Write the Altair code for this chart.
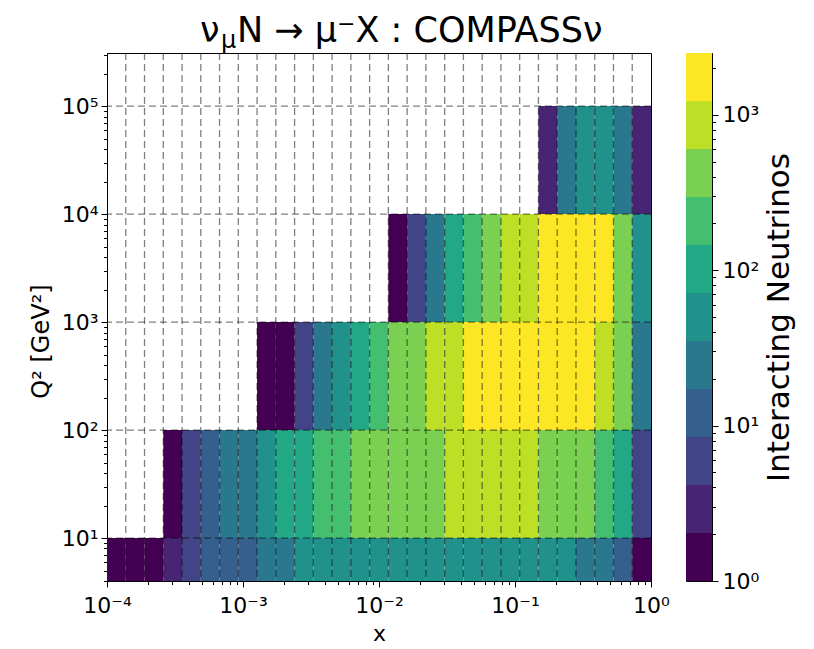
import altair as alt
import numpy as np
import pandas as pd

FONT = "DejaVu Sans"

# histogram binning: 29 log-spaced x bins, decade-wide Q2 bins
x_edges = list(np.logspace(-4, 0, 30))
q2_edges = [1, 10, 100, 1000, 10000, 100000]

# interacting-neutrino counts per x bin (left to right), one list per Q2 row
counts_q2_1_10 = [1, 1, 2, 3, 6, 10, 13, 16, 24, 31, 40, 45, 50, 54, 57, 60, 62, 63, 64, 63,
                  61, 57, 52, 46, 39, 30, 21, 12, 2]
counts_q2_10_100 = [0, 0, 0, 1, 6, 14, 22, 33, 58, 85, 120, 170, 250, 340, 420, 480, 540, 590,
                    650, 720, 760, 740, 680, 580, 480, 370, 230, 110, 7]
counts_q2_100_1000 = [0, 0, 0, 0, 0, 0, 0, 0, 1, 2, 6, 25, 52, 105, 220, 380, 540, 800, 1150,
                      1400, 1600, 1750, 1800, 1750, 1600, 1300, 1000, 450, 30]
counts_q2_1e3_1e4 = [0] * 15 + [1, 7, 28, 95, 200, 420, 700, 1000, 1450, 1900, 2100, 1700, 520, 55]
counts_q2_1e4_1e5 = [0] * 23 + [3, 26, 45, 48, 30, 3]

rows = [counts_q2_1_10, counts_q2_10_100, counts_q2_100_1000, counts_q2_1e3_1e4, counts_q2_1e4_1e5]

# discrete colour levels (log spaced, 11 bands) and viridis colours
color_max = 2500
levels = list(np.logspace(0, np.log10(color_max), 12))
viridis11 = ["#440154", "#482475", "#414487", "#355f8d", "#2a788e", "#21918c",
             "#22a884", "#44bf70", "#7ad151", "#bddf26", "#fde725"]

recs = []
for j, row in enumerate(rows):
    for i, v in enumerate(row):
        if v > 0:
            recs.append({"x_lo": x_edges[i], "x_hi": x_edges[i + 1],
                         "q_lo": q2_edges[j], "q_hi": q2_edges[j + 1], "n": v})
df = pd.DataFrame(recs)


def minor_ticks(lo_exp, hi_exp, lo, hi):
    out = []
    for e in range(lo_exp, hi_exp):
        for m in range(1, 10):
            v = m * 10.0 ** e
            if lo <= v <= hi:
                out.append(v)
    return out


x_ticks = minor_ticks(-4, 1, 1e-4, 1.0)
y_ticks = minor_ticks(0, 6, 4, 3.1e5)
cb_ticks = minor_ticks(0, 4, 1, color_max)

IS_MAJOR = "abs(log(datum.value)/LN10 - round(log(datum.value)/LN10)) < 1e-6"
SUP = "['\u207b\u2074','\u207b\u00b3','\u207b\u00b2','\u207b\u00b9','\u2070','\u00b9','\u00b2','\u00b3','\u2074','\u2075']"
LABEL = f"({IS_MAJOR}) ? '10' + {SUP}[round(log(datum.value)/LN10) + 4] : ''"
TICKSIZE = {"condition": {"test": IS_MAJOR, "value": 6}, "value": 3.5}

axis_common = dict(labelExpr=LABEL, tickSize=TICKSIZE, labelFlush=False, labelOverlap=False,
                   grid=False, labelFontSize=22, tickColor="black", domainColor="black",
                   labelColor="black", titleColor="black", labelFont=FONT, titleFont=FONT,
                   titleFontWeight="normal", tickWidth=1)

H = 528
W = 544

xaxis = alt.Axis(values=x_ticks, title="x", titlePadding=7, labelPadding=8,
                 titleFontSize=22, **axis_common)
yaxis = alt.Axis(values=y_ticks, title="Q\u00b2 [GeV\u00b2]", titlePadding=8, labelPadding=3,
                 titleFontSize=24, titleY=288, **axis_common)

xscale = alt.Scale(type="log", domain=[1e-4, 1.0], nice=False)
yscale = alt.Scale(type="log", domain=[4, 3.1e5], nice=False)
cscale = alt.Scale(type="threshold", domain=levels[1:-1], range=viridis11)

heat = alt.Chart(df).mark_rect(clip=True).encode(
    x=alt.X("x_lo:Q", scale=xscale, axis=xaxis),
    x2="x_hi:Q",
    y=alt.Y("q_lo:Q", scale=yscale, axis=yaxis),
    y2="q_hi:Q",
    color=alt.Color("n:Q", scale=cscale, legend=None),
)

vlines = alt.Chart(pd.DataFrame({"e": x_edges[1:-1]})).mark_rule(
    color="black", opacity=0.5, strokeDash=[7, 4], strokeWidth=1.3
).encode(x=alt.X("e:Q", scale=xscale, axis=xaxis))

hlines = alt.Chart(pd.DataFrame({"e": q2_edges[1:]})).mark_rule(
    color="black", opacity=0.5, strokeDash=[7, 4], strokeWidth=1.3
).encode(y=alt.Y("e:Q", scale=yscale, axis=yaxis))

title_y = -11
t1 = alt.Chart(pd.DataFrame({"t": ["\u03bd"]})).mark_text(
    font=FONT, fontSize=35, align="left", baseline="alphabetic", color="black"
).encode(x=alt.value(93), y=alt.value(title_y), text="t:N")
t2 = alt.Chart(pd.DataFrame({"t": ["\u03bc"]})).mark_text(
    font=FONT, fontSize=24, align="left", baseline="alphabetic", color="black"
).encode(x=alt.value(114), y=alt.value(title_y + 6), text="t:N")
t3 = alt.Chart(pd.DataFrame({"t": ["N \u2192 \u03bc\u207bX : COMPASS\u03bd"]})).mark_text(
    font=FONT, fontSize=35, align="left", baseline="alphabetic", color="black"
).encode(x=alt.value(130), y=alt.value(title_y), text="t:N")

main = alt.layer(heat, vlines, hlines, t1, t2, t3).properties(width=W, height=H)

cb_df = pd.DataFrame({"lo": levels[:-1], "hi": levels[1:]})
cb_df["mid"] = np.sqrt(cb_df["lo"] * cb_df["hi"])

cbar = alt.Chart(cb_df).mark_rect().encode(
    y=alt.Y("lo:Q", scale=alt.Scale(type="log", domain=[1, color_max], nice=False),
            axis=alt.Axis(orient="right", values=cb_ticks, title="Interacting Neutrinos",
                          titleAngle=270, titleBaseline="top", titlePadding=6,
                          labelPadding=4, titleFontSize=31, **axis_common)),
    y2="hi:Q",
    color=alt.Color("mid:Q", scale=cscale, legend=None),
).properties(width=26, height=H)

chart = alt.hconcat(main, cbar, spacing=15).properties(
    padding={"left": 20, "top": 5, "right": 5, "bottom": 5}
).configure_view(stroke="black", strokeWidth=1)

chart.save("out.html", embed_options={"renderer": "svg", "actions": False})
